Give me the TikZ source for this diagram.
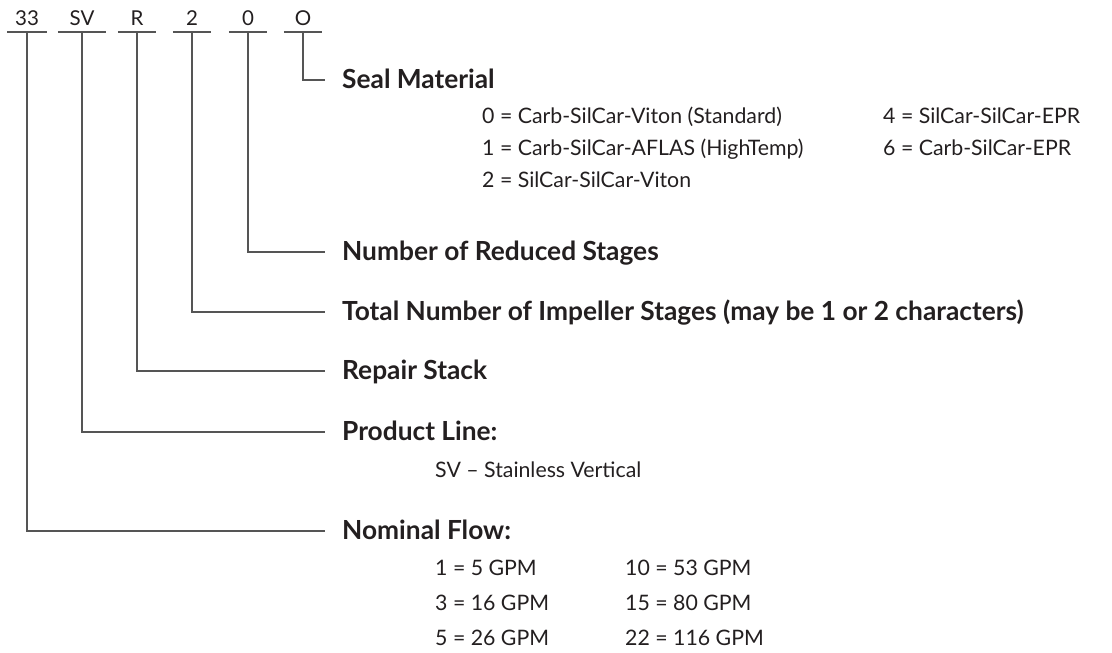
\documentclass[tikz,border=0pt]{standalone}
\usepackage{fontspec}
\setmainfont{Lato}
\usepackage{tikz}
\usetikzlibrary{calc,positioning}
\definecolor{ink}{HTML}{231F20}
\definecolor{wire}{HTML}{555555}
\tikzset{
    code/.style = {anchor=base, inner xsep=0pt, inner ysep=7pt, text depth=0pt,
                   font=\fontsize{20.5}{24}\selectfont, text=ink},
    head/.style = {anchor=west, inner xsep=17pt, inner ysep=0pt, text height=16pt,
                   text depth=0pt, font=\fontsize{26.3}{30}\selectfont\bfseries, text=ink},
    item/.style = {anchor=base west, inner sep=0pt, font=\fontsize{21.3}{25}\selectfont, text=ink},
    conn/.style = {draw=wire, line width=1.6pt}
}
\begin{document}
\begin{tikzpicture}[x=1pt,y=-1pt]
    \useasboundingbox (0,0) rectangle (1112,653);

    % model code characters with their underlines
    \foreach \nm/\txt/\x/\w in {flow/33/27/39, line/SV/82/48, rep/R/137/38,
                                stg/2/192/38, red/0/248/38, seal/O/303/38}{
        \node[code, minimum width=\w pt] (c-\nm) at (\x,25) {\txt};
        \draw[conn] (c-\nm.south west) -- (c-\nm.south east);
    }

    % headings
    \node[head] (sealhd) at (325,80)  {Seal Material};
    \node[head] (redhd)  at (325,252) {Number of Reduced Stages};
    \node[head] (stghd)  at (325,312) {Total Number of Impeller Stages (may be 1 or 2 characters)};
    \node[head] (rephd)  at (325,371) {Repair Stack};
    \node[head] (linehd) at (325,432) {Product Line:};
    \node[head] (flowhd) at (325,531) {Nominal Flow:};

    % seal options
    \node[item] (s0) at (482,123) {0 = Carb-SilCar-Viton (Standard)};
    \node[item] (s1) at (482,155) {1 = Carb-SilCar-AFLAS (HighTemp)};
    \node[item] (s2) at (482,187) {2 = SilCar-SilCar-Viton};
    \node[item] (s4) at (883,123) {4 = SilCar-SilCar-EPR};
    \node[item] (s6) at (883,155) {6 = Carb-SilCar-EPR};

    % product line
    \node[item] (sv) at (435,477) {SV – Stainless Vertical};

    % flow options
    \node[item] (f1)  at (435,575) {1 = 5 GPM};
    \node[item] (f3)  at (435,610) {3 = 16 GPM};
    \node[item] (f5)  at (435,645) {5 = 26 GPM};
    \node[item] (f10) at (625,575) {10 = 53 GPM};
    \node[item] (f15) at (625,610) {15 = 80 GPM};
    \node[item] (f22) at (625,645) {22 = 116 GPM};

    % leaders
    \draw[conn] (c-seal.south) |- (sealhd.west);
    \draw[conn] (c-red.south)  |- (redhd.west);
    \draw[conn] (c-stg.south)  |- (stghd.west);
    \draw[conn] (c-rep.south)  |- (rephd.west);
    \draw[conn] (c-line.south) |- (linehd.west);
    \draw[conn] (c-flow.south) |- (flowhd.west);
\end{tikzpicture}
\end{document}
